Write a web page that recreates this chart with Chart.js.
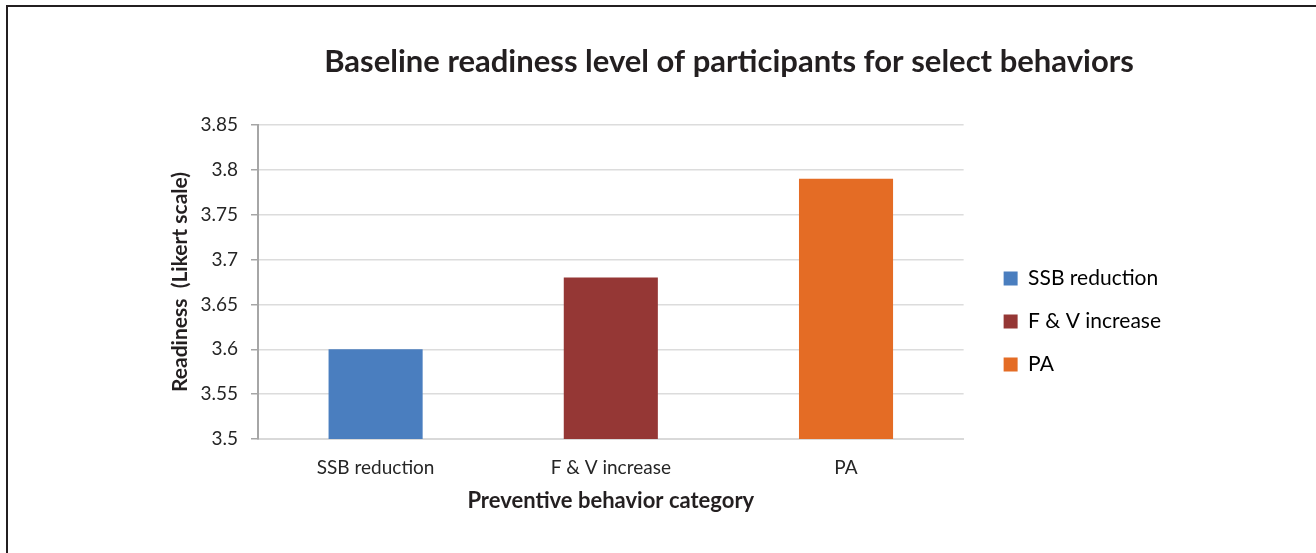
<!DOCTYPE html>
<html>
<head>
<meta charset="utf-8">
<script src="https://cdn.jsdelivr.net/npm/chart.js@4.4.0/dist/chart.umd.min.js"></script>
<style>
  body { margin: 0; background: #fff; }
  #wrap { position: relative; width: 1316px; height: 553px; overflow: hidden; }
  #frame { position: absolute; left: 6px; top: 5px; width: 1400px; height: 600px;
           border-left: 2px solid #231f20; border-top: 2px solid #231f20; pointer-events: none; }
  canvas { position: absolute; left: 0; top: 0; }
</style>
</head>
<body>
<div id="wrap">
  <canvas id="myChart" width="1316" height="553"></canvas>
  <div id="frame"></div>
</div>
<script>
const chartTitle = 'Baseline readiness level of participants for select behaviors';
const categories = ['SSB reduction', 'F & V increase', 'PA'];
const readiness = [3.6, 3.68, 3.79];
const barColors = ['#4a7ebf', '#953735', '#e46c25'];
const yMin = 3.5;
const yMax = 3.85;
const yStep = 0.05;

const textColor = '#262626';
const fontFamily = 'Lato, "Open Sans", sans-serif';

// the title sits centered over plot + legend, so it is drawn by hand
const titlePlugin = {
  id: 'sideTitle',
  afterDraw(chart) {
    const c = chart.ctx;
    c.save();
    c.font = 'bold 31px ' + fontFamily;
    c.fillStyle = '#231f20';
    c.textAlign = 'center';
    c.textBaseline = 'middle';
    c.fillText(chartTitle, 729, 62);
    c.restore();
  }
};

const ctx = document.getElementById('myChart');

new Chart(ctx, {
  type: 'bar',
  data: {
    labels: categories,
    datasets: [{
      label: 'Readiness',
      data: readiness,
      backgroundColor: barColors,
      borderWidth: 0,
      categoryPercentage: 1,
      barPercentage: 0.4
    }]
  },
  options: {
    responsive: false,
    animation: false,
    layout: { padding: { top: 125, bottom: 35, left: 168, right: 145 } },
    plugins: {
      title: { display: false },
      tooltip: { enabled: false },
      legend: {
        position: 'right',
        labels: {
          color: textColor,
          font: { family: fontFamily, size: 21 },
          boxWidth: 14,
          boxHeight: 14,
          padding: 22,
          generateLabels: function () {
            return categories.map((c, i) => ({
              text: c,
              fillStyle: barColors[i],
              strokeStyle: barColors[i],
              lineWidth: 0,
              hidden: false,
              index: i,
              datasetIndex: 0
            }));
          }
        }
      }
    },
    scales: {
      x: {
        afterFit: (scale) => { scale.height = 79; },
        grid: { display: false, drawTicks: false },
        border: { color: '#d9d9d9', width: 2 },
        ticks: { color: textColor, font: { family: fontFamily, size: 19 }, padding: 17 },
        title: {
          display: true,
          text: 'Preventive behavior category',
          color: '#231f20',
          font: { family: fontFamily, size: 22, weight: 'bold' },
          padding: { top: 8, bottom: 4 }
        }
      },
      y: {
        min: yMin,
        max: yMax,
        afterFit: (scale) => { scale.width = 90; },
        grid: { color: '#dcdcdc', lineWidth: 1.5, tickColor: '#a6a6a6', tickLength: 7 },
        border: { color: '#a6a6a6', width: 2 },
        ticks: {
          stepSize: yStep,
          color: textColor,
          font: { family: fontFamily, size: 19 },
          padding: 13,
          callback: (v) => String(Number(v.toFixed(2)))
        },
        title: {
          display: true,
          text: 'Readiness  (Likert scale)',
          color: '#231f20',
          font: { family: fontFamily, size: 21, weight: 'bold' },
          padding: { top: 0, bottom: 0 }
        }
      },
      // blank strip between plot and legend
      gap: {
        position: 'right',
        type: 'linear',
        display: false,
        afterFit: (scale) => { scale.width = 18; }
      }
    }
  },
  plugins: [titlePlugin]
});
</script>
</body>
</html>
